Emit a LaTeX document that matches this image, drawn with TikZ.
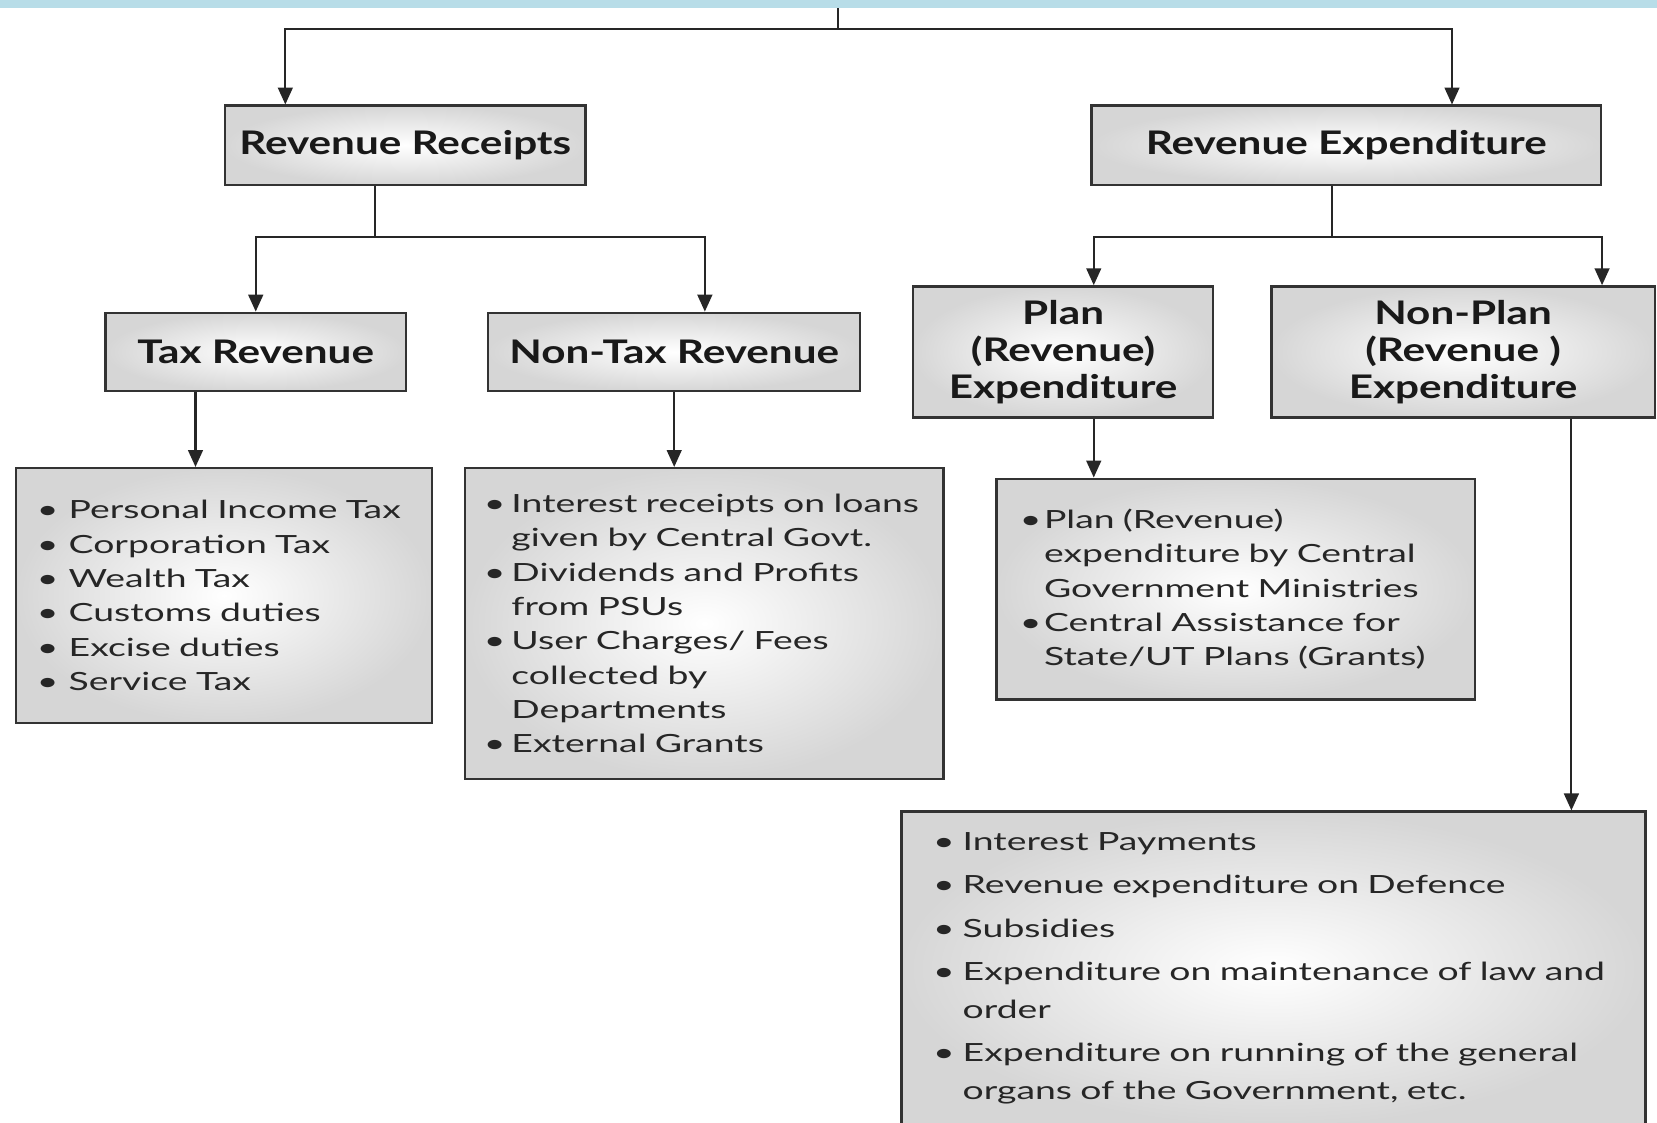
\documentclass[tikz,border=0pt]{standalone}
\usepackage{fontspec}
\setmainfont{Lato}[FakeStretch=1.49]
\newfontfamily\headfont{Lato}[FakeStretch=1.3]
\usetikzlibrary{arrows.meta}

\definecolor{bandblue}{HTML}{B8DDE8}
\definecolor{boxline}{HTML}{333333}
\newcommand{\itm}[1][5mm]{\makebox[#1][l]{\textbullet}}
\newcommand{\cnt}[1][5mm]{\hspace*{#1}}

\begin{document}
\begin{tikzpicture}[x=0.2mm, y=-0.2mm,
    head/.style={draw=boxline, line width=1.3pt, inner color=white, outer color=black!16,
      align=center, inner sep=2pt, text=black!90,
      font=\headfont\bfseries\fontsize{17.5}{19.9}\selectfont},
    list/.style={draw=boxline, line width=1.3pt, inner color=white, outer color=black!16,
      align=left, inner ysep=2pt, text=black!85,
      font=\fontsize{13.5}{18.5}\selectfont},
    edgeline/.style={draw=black!85, line width=1.1pt},
    edgearrow/.style={edgeline, -{Triangle[length=3.2mm,width=2.8mm]}}]
    \path[use as bounding box, clip] (0,0) rectangle (1568,1062);
    \fill[white] (0,0) rectangle (1568,1062);
    \fill[bandblue] (0,0) rectangle (1568,8);
    % headings
    \node[head, minimum width=68.2mm, minimum height=15mm] (rr) at (383.5,137.5) {Revenue Receipts};
    \node[head, minimum width=96.4mm, minimum height=15mm] (re) at (1274,137.5) {Revenue Expenditure};
    \node[head, minimum width=56.8mm, minimum height=14.8mm] (tr) at (242,333) {Tax Revenue};
    \node[head, minimum width=70.4mm, minimum height=14.8mm] (ntr) at (638,333) {Non-Tax Revenue};
    \node[head, minimum width=56.8mm, minimum height=24.8mm] (plan) at (1006,333) {Plan\\(Revenue)\\Expenditure};
    \node[head, minimum width=72.6mm, minimum height=24.8mm] (np) at (1384.5,333) {Non-Plan\\(Revenue )\\Expenditure};
    % lists
    \node[list, inner xsep=4mm, text width=70.8mm, minimum height=48.2mm] (trl) at (212,563.5)
      {\itm[6mm]Personal Income Tax\\ \itm[6mm]Corporation Tax\\ \itm[6mm]Wealth Tax\\
       \itm[6mm]Customs duties\\ \itm[6mm]Excise duties\\ \itm[6mm]Service Tax};
    \node[list, inner xsep=3.6mm, text width=83.4mm, minimum height=58.8mm] (ntrl) at (666.5,590)
      {\itm[5.2mm]Interest receipts on loans\\ \cnt[5.2mm]given by Central Govt.\\
       \itm[5.2mm]Dividends and Profits\\ \cnt[5.2mm]from PSUs\\
       \itm[5.2mm]User Charges/ Fees\\ \cnt[5.2mm]collected by\\ \cnt[5.2mm]Departments\\
       \itm[5.2mm]External Grants};
    \node[list, inner xsep=4.4mm, text width=81.8mm, minimum height=41.8mm] (pl) at (1169.5,557.5)
      {\itm[4.6mm]Plan (Revenue)\\ \cnt[4.6mm]expenditure by Central\\ \cnt[4.6mm]Government Ministries\\
       \itm[4.6mm]Central Assistance for\\ \cnt[4.6mm]State/UT Plans (Grants)};
    \node[list, inner xsep=6mm, text width=128.8mm, minimum height=59.4mm, font=\fontsize{13.5}{20.5}\selectfont] (npl) at (1205,916.5)
      {\itm[5.6mm]Interest Payments\\[2.8pt] \itm[5.6mm]Revenue expenditure on Defence\\[2.8pt]
       \itm[5.6mm]Subsidies\\[2.8pt] \itm[5.6mm]Expenditure on maintenance of law and\\ \cnt[5.6mm]order\\[2.8pt]
       \itm[5.6mm]Expenditure on running of the general\\ \cnt[5.6mm]organs of the Government, etc.};
    % connectors
    \coordinate (top) at (793,8);
    \coordinate (bar) at (793,27);
    \coordinate (rrj) at (270,27);
    \coordinate (rej) at (1374,27);
    \draw[edgeline] (top) -- (bar);
    \draw[edgearrow] (bar) -| (rrj |- rr.north);
    \draw[edgearrow] (bar) -| (rej |- re.north);
    \coordinate (rrs) at (355,224);
    \coordinate (ntrj) at (667,224);
    \draw[edgeline] (rrs |- rr.south) -- (rrs);
    \draw[edgearrow] (rrs) -| (tr.north);
    \draw[edgearrow] (rrs) -| (ntrj |- ntr.north);
    \coordinate (res) at (1260,224);
    \coordinate (plj) at (1035,224);
    \coordinate (npj) at (1516,224);
    \draw[edgeline] (res |- re.south) -- (res);
    \draw[edgearrow] (res) -| (plj |- plan.north);
    \draw[edgearrow] (res) -| (npj |- np.north);
    \coordinate (trd) at (185,400);
    \coordinate (pld) at (1035,420);
    \coordinate (npd) at (1487,500);
    \draw[edgearrow] (trd |- tr.south) -- (trd |- trl.north);
    \draw[edgearrow] (ntr.south) -- (ntr.south |- ntrl.north);
    \draw[edgearrow] (pld |- plan.south) -- (pld |- pl.north);
    \draw[edgearrow] (npd |- np.south) -- (npd |- npl.north);
\end{tikzpicture}
\end{document}
